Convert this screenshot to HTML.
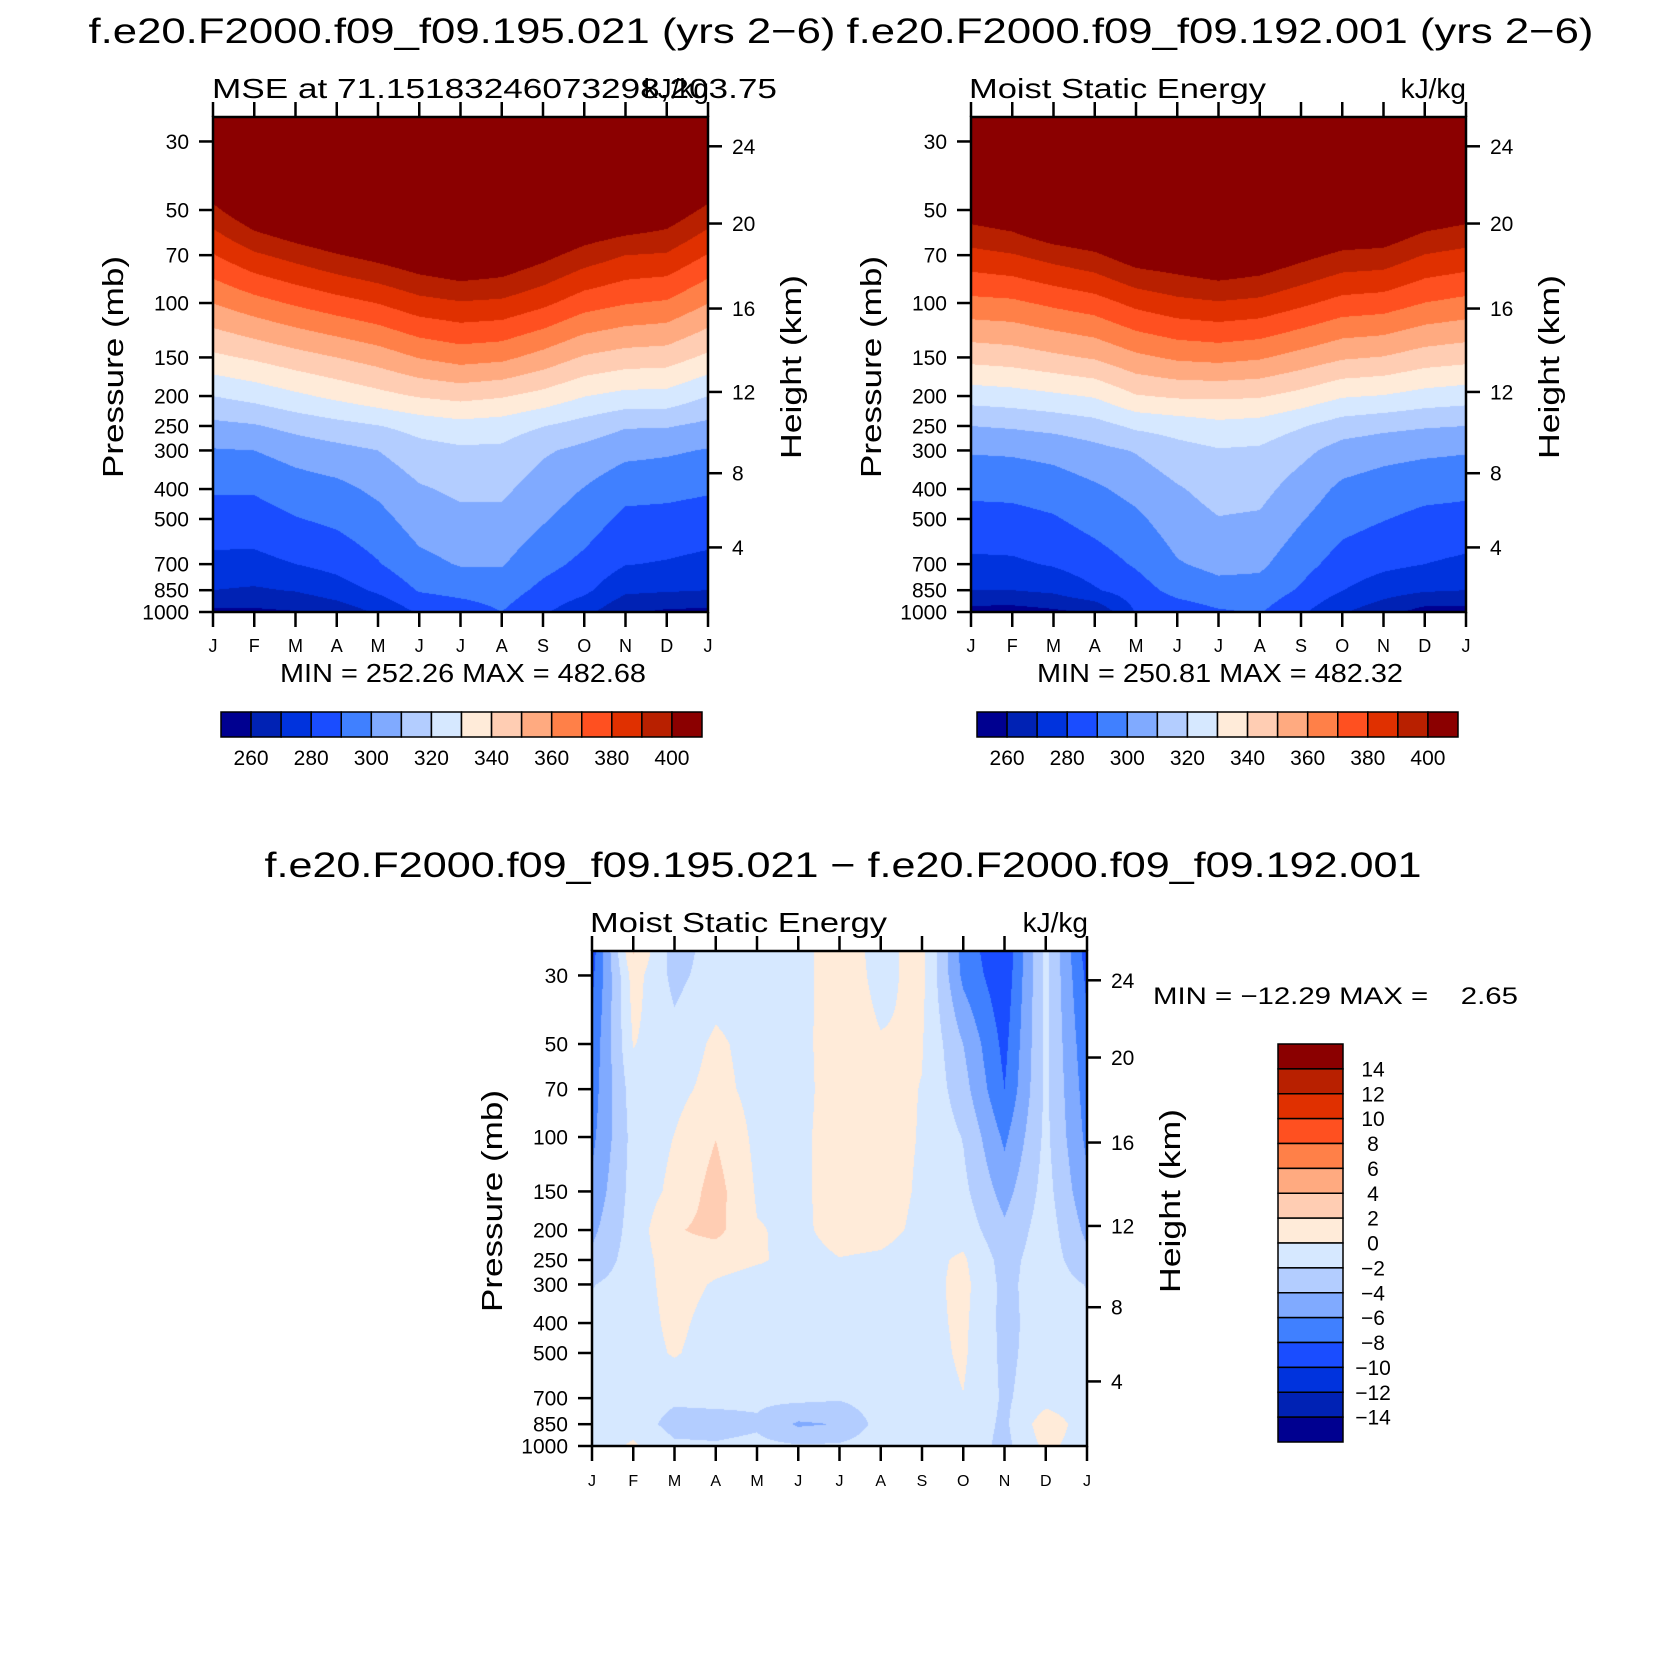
<!DOCTYPE html>
<html><head><meta charset="utf-8">
<style>
body{margin:0;width:1680px;height:1680px;background:#fff;position:relative;overflow:hidden;font-family:"Liberation Sans",sans-serif}
canvas{position:absolute}
svg{position:absolute;left:0;top:0}
svg text{font-family:"Liberation Sans",sans-serif;fill:#000;white-space:pre}
</style></head>
<body>
<canvas id="c1" width="495" height="495" style="left:213px;top:117px"></canvas>
<canvas id="c2" width="495" height="495" style="left:971px;top:117px"></canvas>
<canvas id="c3" width="495" height="495" style="left:592px;top:951px"></canvas>
<svg id="s" width="1680" height="1680">
<text x="462" y="43" font-size="35" text-anchor="middle" textLength="747" lengthAdjust="spacingAndGlyphs">f.e20.F2000.f09_f09.195.021 (yrs 2−6)</text>
<text x="1220" y="43" font-size="35" text-anchor="middle" textLength="747" lengthAdjust="spacingAndGlyphs">f.e20.F2000.f09_f09.192.001 (yrs 2−6)</text>
<text x="843" y="877" font-size="35" text-anchor="middle" textLength="1157" lengthAdjust="spacingAndGlyphs">f.e20.F2000.f09_f09.195.021 − f.e20.F2000.f09_f09.192.001</text>
<text x="212" y="98" font-size="28" textLength="565" lengthAdjust="spacingAndGlyphs">MSE at 71.15183246073298,203.75</text>
<text x="709" y="98" font-size="28" text-anchor="end">kJ/kg</text>
<text x="969" y="98" font-size="28" textLength="297" lengthAdjust="spacingAndGlyphs">Moist Static Energy</text>
<text x="1466" y="98" font-size="28" text-anchor="end">kJ/kg</text>
<text x="590" y="932" font-size="28" textLength="297" lengthAdjust="spacingAndGlyphs">Moist Static Energy</text>
<text x="1088" y="932" font-size="28" text-anchor="end">kJ/kg</text>
<text x="463" y="682" font-size="26" text-anchor="middle" textLength="366" lengthAdjust="spacingAndGlyphs">MIN = 252.26 MAX = 482.68</text>
<text x="1220" y="682" font-size="26" text-anchor="middle" textLength="366" lengthAdjust="spacingAndGlyphs">MIN = 250.81 MAX = 482.32</text>
<text x="1153" y="1004" font-size="24" textLength="365" lengthAdjust="spacingAndGlyphs">MIN = −12.29 MAX =    2.65</text>
</svg>
<script>
const months=['J','F','M','A','M','J','J','A','S','O','N','D','J'];
const levels=[25,30,50,70,100,150,200,250,300,400,500,700,850,1000];
const pTicks=[30,50,70,100,150,200,250,300,400,500,700,850,1000];
const zTicks=[24,20,16,12,8,4];
const zTickP=[31.1,55.3,104.2,194,355.5,618];
const mseLevels=[260,270,280,290,300,310,320,330,340,350,360,370,380,390,400];
const mseLabels=[260,280,300,320,340,360,380,400];
const diffLevels=[-14,-12,-10,-8,-6,-4,-2,0,2,4,6,8,10,12,14];
const palette=['#000090','#0022b4','#0033dd','#1a4dff','#4080ff','#80aaff','#b3cdff','#d6e8ff','#ffebd9','#ffcdb3','#ffaa80','#ff8048','#ff5020','#e03000','#b82000','#8b0000'];

const mse195=[
[434,424,397.5,379.4,360.2,337.8,320,307.4,299.3,291.1,285.8,277.3,270,257.6],
[452,442,409.8,388.3,366.2,341.5,323.4,309.1,300,291.1,285.8,277.1,268.7,258],
[461,451,416.8,393.8,371.4,346,328,313.2,304,295,289.5,280,270.7,259.4],
[467,456.8,422,399.3,376,350,332.4,316.5,307,297.2,292.1,283.2,275.4,264],
[471,461,426.8,403.8,380.3,354.4,336.8,319.6,310,302.1,296.8,289.3,281.7,271.4],
[474,463.8,431,409,386.5,360.5,340.8,323.7,316.3,308.9,304.6,297.1,290.8,281.3],
[482,472,436.7,413,389.1,364,343.1,326.3,318.3,312,307.4,300.7,293.4,284.3],
[475,465,432,410.2,388,362.4,340.9,325,318,312,307.4,300.7,294.9,290],
[464,454,423.8,403.3,382.4,356.3,336.6,320.3,311.4,305.2,301,293.2,287.4,281.4],
[457,446.7,416,395.6,374.5,348.9,330.3,315.8,307.3,299.6,295,287.5,282.2,273.3],
[457,447.5,413,390,370.6,345.6,327,310.9,302.8,293.3,287.6,280.4,272,261.4],
[447,436.9,408.1,388.9,368.7,344.7,326.6,310.8,301.5,292.6,287.1,279.2,271.1,258.3],
[434,424,397.5,379.4,360.2,337.8,320,307.4,299.3,291.1,285.8,277.3,270,257.6]];

const mse192=[
[445,434.8,406,386.8,367.1,343.3,324.5,310,300.9,292.2,286.6,278,270,256],
[450,440.4,409.8,389.3,368.1,344.8,325.8,311.2,301.5,292.6,287,278.4,270,255.5],
[466,456,418.9,394.1,372.1,348,328.2,313.1,303.3,294.5,289.1,280.9,272.2,258],
[466,455.8,421.3,398.3,375.6,351.1,330.9,316,307,298.4,293.6,285.3,279,261.2],
[474,463.8,429.3,406.3,382.8,357.8,339.3,322,310.7,303.1,298,291.1,285.5,280.6],
[471,460.9,429.5,408.6,387.2,361.7,341.4,324.2,316.5,309,305.3,299.2,293.3,284.5],
[480,470,435.5,412.5,389.1,363,341.7,327,319.3,313.8,309.6,302.6,296.7,288.8],
[473,462.8,430.7,409.3,387.4,361.1,340.9,325.8,318.6,313.1,308.7,301.9,296.3,290.7],
[464,454.4,423.8,403.3,382.1,356.3,336.6,320.8,312.8,305.4,300.8,293.6,288.7,281.7],
[461,451.2,419.1,397.7,376.5,351.2,330.9,315.1,306,297.9,293.6,285.8,280.2,271.1],
[460,450,417.9,396.5,375.1,349.5,329.5,312.7,303.3,295.3,290.4,282.3,274.6,263.6],
[450,439.6,409.6,389.6,369.8,345.2,326.2,310.9,301.9,293.1,287.5,280,271.2,256],
[445,434.8,406,386.8,367.1,343.3,324.5,310,300.9,292.2,286.6,278,270,256]];

const mseDiff=[
[-9,-8.5,-7.5,-7,-6.5,-5.5,-4.5,-3.5,-2.1,-1.5,-1.2,-1,-1,-1],
[2.2,0.9,0.1,-0.9,-1.3,-1.2,-1.1,-1,-1,-1,-1,-1,-0.8,0.3],
[-3,-2.6,-1.3,-0.6,0.05,0.5,1.8,1.0,0.8,0.5,0.2,-1.6,-2.8,-1.6],
[-1,-1,0.4,0.7,1.95,2.8,2.6,0.7,-0.2,-0.8,-1,-1.5,-2.7,-1.8],
[-1,-1,-0.8,-0.7,-0.5,-0.2,0.1,0.2,-0.8,-1,-1,-1.6,-2.3,-1.5],
[-0.5,-0.5,-0.4,-0.4,-0.3,-0.3,-0.3,-0.5,-0.2,-0.4,-1,-1.5,-4.3,-1.8],
[0.8,0.8,0.7,0.6,0.6,0.6,0.5,-0.05,-0.5,-0.8,-1,-1.8,-3.9,-1.7],
[-0.5,-0.4,0.1,0.5,0.6,0.6,0.4,-0.2,-0.8,-1,-1,-1,-1.2,-0.8],
[0.6,0.5,0.1,-0.05,-0.1,-0.2,-0.3,-0.6,-0.8,-0.7,-0.8,-0.9,-0.9,-0.9],
[-6.8,-6.5,-4,-3.2,-2.1,-1.5,-0.8,0.3,0.6,0.4,0.3,-0.05,-0.6,-0.7],
[-9.8,-9.5,-8.6,-8,-6.4,-4.8,-3.6,-2.8,-2.6,-2.6,-2.5,-2.3,-2.4,-2.6],
[-1.5,-1.5,-1.6,-1.6,-1.5,-1.2,-0.9,-0.8,-0.8,-1,-1,-0.8,1.2,0.5],
[-9,-8.5,-7.5,-7,-6.5,-5.5,-4.5,-3.5,-2.1,-1.5,-1.2,-1,-1,-1]];

const W=495,H=495,LT=Math.log10(25),LB=3;
const plots=[
 {id:'c1',x:213,y:117,data:mse195,lv:mseLevels,key:'195'},
 {id:'c2',x:971,y:117,data:mse192,lv:mseLevels,key:'192'},
 {id:'c3',x:592,y:951,data:mseDiff,lv:diffLevels,key:'diff'}];
const logL=levels.map(Math.log10);
function yOf(pl,p){return pl.y+(Math.log10(p)-LT)/(LB-LT)*H;}
function xOf(pl,m){return pl.x+m/(months.length-1)*W;}
function bandIndex(v,lv){let k=0;while(k<lv.length&&v>=lv[k])k++;return k;}
const rgb=palette.map(h=>[parseInt(h.slice(1,3),16),parseInt(h.slice(3,5),16),parseInt(h.slice(5,7),16)]);

plots.forEach(pl=>{
 const cv=document.getElementById(pl.id),ctx=cv.getContext('2d');
 const img=ctx.createImageData(W,H),d=img.data,nm=months.length-1;
 for(let py=0;py<H;py++){
  const lp=LT+(py+0.5)/H*(LB-LT);
  let j=0;while(j<logL.length-2&&lp>logL[j+1])j++;
  const t=Math.min(1,Math.max(0,(lp-logL[j])/(logL[j+1]-logL[j])));
  for(let px=0;px<W;px++){
   const m=(px+0.5)/W*nm;let i=Math.min(nm-1,Math.floor(m));const u=m-i;
   const a=pl.data[i][j]*(1-t)+pl.data[i][j+1]*t;
   const b=pl.data[i+1][j]*(1-t)+pl.data[i+1][j+1]*t;
   const v=a*(1-u)+b*u;
   const c=rgb[bandIndex(v,pl.lv)];const o=(py*W+px)*4;
   d[o]=c[0];d[o+1]=c[1];d[o+2]=c[2];d[o+3]=255;
  }
 }
 ctx.putImageData(img,0,0);
});

const svg=document.getElementById('s');const NS='http://www.w3.org/2000/svg';
function mk(tag,attrs,txt){const e=document.createElementNS(NS,tag);for(const k in attrs)e.setAttribute(k,attrs[k]);if(txt!==undefined)e.textContent=txt;svg.appendChild(e);return e;}

plots.forEach(pl=>{
 const isBottom=pl.key==='diff';
 let e=mk('rect',{x:pl.x,y:pl.y,width:W,height:H,fill:'none',stroke:'#000','stroke-width':2.5});
 
 
 months.forEach((mo,i)=>{
  const x=xOf(pl,i);
  let t=mk('line',{x1:x,x2:x,y1:pl.y+H,y2:pl.y+H+15,stroke:'#000','stroke-width':2.5});
  
  
  let t2=mk('line',{x1:x,x2:x,y1:pl.y,y2:pl.y-15,stroke:'#000','stroke-width':2.5});
  
  
  let l=mk('text',{x:x,y:pl.y+H+40,'font-size':isBottom?16:18,'text-anchor':'middle'},mo);
  
  
 });
 pTicks.forEach(p=>{
  const y=yOf(pl,p);
  let t=mk('line',{x1:pl.x-14,x2:pl.x,y1:y,y2:y,stroke:'#000','stroke-width':2.5});
  
  
  let l=mk('text',{x:pl.x-24,y:y+7.5,'font-size':21,'text-anchor':'end'},String(p));
  
  
 });
 zTicks.forEach((z,i)=>{
  const y=yOf(pl,zTickP[i]);
  let t=mk('line',{x1:pl.x+W,x2:pl.x+W+14,y1:y,y2:y,stroke:'#000','stroke-width':2.5});
  
  
  let l=mk('text',{x:pl.x+W+24,y:y+7.5,'font-size':21},String(z));
  
  
 });
 const cy=pl.y+250;
 let pt=mk('text',{x:0,y:0,'font-size':29,'text-anchor':'middle',textLength:222,lengthAdjust:'spacingAndGlyphs',transform:'translate('+(pl.x-90)+','+cy+') rotate(-90)'},'Pressure (mb)');
 
 
 let ht=mk('text',{x:0,y:0,'font-size':29,'text-anchor':'middle',textLength:184,lengthAdjust:'spacingAndGlyphs',transform:'translate('+(pl.x+W+93)+','+cy+') rotate(-90)'},'Height (km)');
 
 
});

[{x:221,key:'195'},{x:977,key:'192'}].forEach(cb=>{
 const bw=481/palette.length;
 palette.forEach((c,i)=>{
  let r=mk('rect',{x:cb.x+i*bw,y:712,width:bw,height:25,fill:c,stroke:'#000','stroke-width':1.5});
  
  
 });
 mseLevels.forEach((v,i)=>{
  if(mseLabels.indexOf(v)<0)return;
  let l=mk('text',{x:cb.x+(i+1)*bw,y:765,'font-size':21,'text-anchor':'middle'},String(v));
  
  
 });
});
{
 const bh=(1442-1044)/palette.length;
 palette.slice().reverse().forEach((c,i)=>{
  let r=mk('rect',{x:1278,y:1044+i*bh,width:65,height:bh,fill:c,stroke:'#000','stroke-width':1.5});
  
  
 });
 diffLevels.slice().reverse().forEach((v,i)=>{
  let l=mk('text',{x:1373,y:1044+(i+1)*bh+7.5,'font-size':21,'text-anchor':'middle'},String(v).replace('-','−'));
  
  
 });
}
</script>
</body></html>
